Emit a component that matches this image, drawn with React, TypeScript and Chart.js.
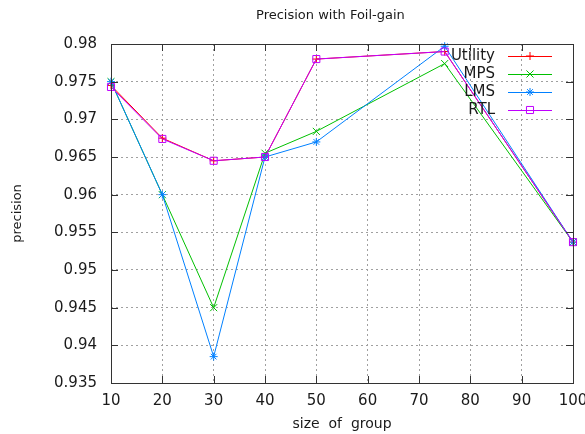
import React, { useEffect, useRef } from "react";
import { Chart, registerables } from "chart.js";
import { drawPoint } from "chart.js/helpers";

Chart.register(...registerables);

const groupSizes = [10, 20, 30, 40, 50, 75, 100];
const utility = [0.9745, 0.9675, 0.9645, 0.965, 0.978, 0.979, 0.9537];
const mps = [0.975, 0.96, 0.945, 0.9655, 0.9684, 0.9774, 0.9537];
const lms = [0.975, 0.96, 0.9385, 0.965, 0.967, 0.9797, 0.9537];
const rtl = [0.9743, 0.9674, 0.9645, 0.965, 0.978, 0.979, 0.9537];

const seriesNames = ["Utility", "MPS", "LMS", "RTL"];
const seriesValues = [utility, mps, lms, rtl];
const seriesColors = ["#ff0000", "#00c000", "#0080ff", "#c000ff"];
const seriesPoints = ["cross", "crossRot", "star", "rect"];
const seriesRadius = [4, 5, 4, 5];

const chartTitle = "Precision with Foil-gain";
const xTitle = "size  of  group";
const yTitle = "precision";

const FONT = "'DejaVu Sans', sans-serif";
const TEXT = "#1a1a1a";
const FRAME = "#333333";

const framePlugin = {
  id: "gnuplotFrame",
  afterDatasetsDraw(chart: any) {
    const { ctx, chartArea } = chart;
    const { left, right, top, bottom } = chartArea;
    ctx.save();
    ctx.strokeStyle = FRAME;
    ctx.lineWidth = 1;
    ctx.setLineDash([]);
    ctx.strokeRect(Math.round(left) + 0.5, Math.round(top) + 0.5, Math.round(right - left), Math.round(bottom - top));
    const tl = 7;
    const xs = chart.scales.x;
    const ys = chart.scales.y;
    ctx.beginPath();
    xs.ticks.forEach((t: any) => {
      const px = Math.round(xs.getPixelForValue(t.value)) + 0.5;
      ctx.moveTo(px, bottom);
      ctx.lineTo(px, bottom - tl);
      ctx.moveTo(px, top);
      ctx.lineTo(px, top + tl);
    });
    ys.ticks.forEach((t: any) => {
      const py = Math.round(ys.getPixelForValue(t.value)) + 0.5;
      ctx.moveTo(left, py);
      ctx.lineTo(left + tl, py);
      ctx.moveTo(right, py);
      ctx.lineTo(right - tl, py);
    });
    ctx.stroke();

    ctx.fillStyle = TEXT;
    ctx.font = `13px ${FONT}`;
    ctx.textAlign = "center";
    ctx.textBaseline = "middle";
    ctx.fillText(chartTitle, left + (right - left) * 0.475, 16);

    ctx.font = `15px ${FONT}`;
    ctx.textAlign = "right";
    chart.data.datasets.forEach((ds: any, i: number) => {
      const y = top + 12 + i * 18;
      ctx.fillStyle = TEXT;
      ctx.fillText(ds.label, right - 78, y);
      ctx.strokeStyle = ds.borderColor;
      ctx.lineWidth = 1;
      ctx.beginPath();
      ctx.moveTo(right - 65, y + 0.5);
      ctx.lineTo(right - 21, y + 0.5);
      ctx.stroke();
      ctx.fillStyle = "transparent";
      drawPoint(ctx, {
        pointStyle: ds.pointStyle,
        radius: ds.pointRadius,
        borderWidth: 1,
        rotation: 0,
      } as any, right - 43, y);
    });
    ctx.restore();
  },
};

export default function App() {
  const canvasRef = useRef<HTMLCanvasElement | null>(null);

  useEffect(() => {
    document.body.style.margin = "0";
    const canvas = canvasRef.current;
    if (!canvas) return;
    const chart = new Chart(canvas, {
      type: "line",
      data: {
        datasets: seriesNames.map((name, i) => ({
          label: name,
          data: groupSizes.map((x, j) => ({ x, y: seriesValues[i][j] })),
          borderColor: seriesColors[i],
          backgroundColor: "transparent",
          pointBorderColor: seriesColors[i],
          pointBackgroundColor: "transparent",
          pointStyle: seriesPoints[i],
          pointRadius: seriesRadius[i],
          pointHoverRadius: seriesRadius[i],
          pointBorderWidth: 1,
          borderWidth: 1,
          tension: 0,
          fill: false,
          clip: false,
          order: 4 - i,
        })) as any,
      },
      options: {
        animation: false,
        responsive: false,
        events: [],
        layout: { padding: { top: 44, right: 12, left: 0, bottom: 0 } },
        plugins: {
          legend: { display: false },
          title: { display: false },
          tooltip: { enabled: false },
        },
        scales: {
          x: {
            type: "linear",
            min: 10,
            max: 100,
            ticks: {
              stepSize: 10,
              padding: 9,
              color: TEXT,
              font: { family: FONT, size: 15 },
              maxRotation: 0,
            },
            grid: { color: "#a0a0a0", drawTicks: false, lineWidth: 1 },
            border: { display: false, dash: [2, 3] },
            title: {
              display: true,
              text: xTitle,
              color: TEXT,
              font: { family: FONT, size: 14 },
              padding: { top: 0, bottom: 1 },
            },
            afterFit(scale: any) {
              scale.height = 51;
              scale.paddingLeft = 0;
              scale.paddingRight = 0;
            },
          },
          y: {
            type: "linear",
            min: 0.935,
            max: 0.98,
            ticks: {
              stepSize: 0.005,
              padding: 14,
              color: TEXT,
              font: { family: FONT, size: 15 },
              callback: (v: any) => String(+Number(v).toFixed(3)),
            },
            grid: { color: "#a0a0a0", drawTicks: false, lineWidth: 1 },
            border: { display: false, dash: [2, 3] },
            title: {
              display: true,
              text: yTitle,
              color: TEXT,
              font: { family: FONT, size: 13 },
              padding: { top: 10, bottom: 0 },
            },
            afterFit(scale: any) {
              scale.width = 111;
              scale.paddingTop = 0;
              scale.paddingBottom = 0;
            },
          },
        },
      },
      plugins: [framePlugin],
    });
    return () => chart.destroy();
  }, []);

  return (
    <div style={{ width: 585, height: 434 }}>
      <canvas ref={canvasRef} width={585} height={434} />
    </div>
  );
}
